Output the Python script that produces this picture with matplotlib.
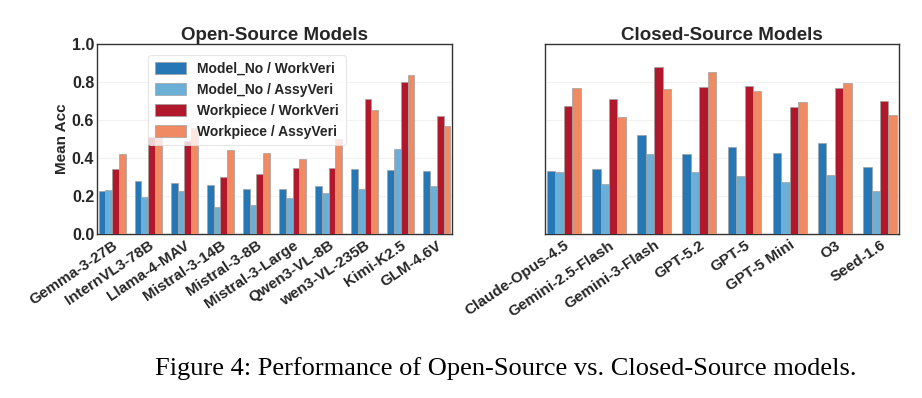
import matplotlib.pyplot as plt
import numpy as np

plt.rcParams['font.family'] = ['Liberation Sans', 'DejaVu Sans']
plt.rcParams['font.weight'] = 'bold'

# data
open_models = ['Gemma-3-27B', 'InternVL3-78B', 'Llama-4-MAV', 'Mistral-3-14B', 'Mistral-3-8B',
               'Mistral-3-Large', 'Qwen3-VL-8B', 'wen3-VL-235B', 'Kimi-K2.5', 'GLM-4.6V']
open_mn_work = [0.225, 0.279, 0.267, 0.258, 0.237, 0.237, 0.254, 0.344, 0.335, 0.330]
open_mn_assy = [0.230, 0.195, 0.226, 0.142, 0.151, 0.189, 0.216, 0.235, 0.446, 0.251]
open_wp_work = [0.344, 0.509, 0.489, 0.300, 0.314, 0.347, 0.346, 0.709, 0.798, 0.621]
open_wp_assy = [0.421, 0.520, 0.558, 0.442, 0.425, 0.396, 0.500, 0.653, 0.837, 0.568]

closed_models = ['Claude-Opus-4.5', 'Gemini-2.5-Flash', 'Gemini-3-Flash', 'GPT-5.2', 'GPT-5',
                 'GPT-5 Mini', 'O3', 'Seed-1.6']
closed_mn_work = [0.330, 0.340, 0.519, 0.419, 0.460, 0.425, 0.477, 0.353]
closed_mn_assy = [0.325, 0.263, 0.419, 0.325, 0.304, 0.274, 0.309, 0.226]
closed_wp_work = [0.674, 0.709, 0.881, 0.775, 0.779, 0.668, 0.768, 0.700]
closed_wp_assy = [0.768, 0.614, 0.763, 0.853, 0.751, 0.693, 0.795, 0.625]

series_names = ['Model_No / WorkVeri', 'Model_No / AssyVeri',
                'Workpiece / WorkVeri', 'Workpiece / AssyVeri']
colors = ['#2577b5', '#6baed6', '#b2182b', '#ef8a62']

fig = plt.figure(figsize=(9.22, 3.98), dpi=100)
ax1 = fig.add_axes([0.1052, 0.412, 0.385, 0.4774])
ax2 = fig.add_axes([0.591, 0.412, 0.384, 0.4774])

w = 0.1875


def draw(ax, names, series, title):
    x = np.arange(len(names))
    for k, vals in enumerate(series):
        ax.bar(x + (k - 1.5) * w, vals, w, color=colors[k], edgecolor='#a0a0a0',
               linewidth=0.5, label=series_names[k], zorder=3)
    ax.set_xlim(-0.42, len(names) - 1 + 0.42)
    ax.set_ylim(0, 1.0)
    ax.set_xticks(x)
    ax.set_xticklabels(names, rotation=34, ha='right', rotation_mode='anchor',
                       fontsize=11, fontweight='bold', color='#262626')
    ax.tick_params(axis='x', length=0, pad=3)
    ax.set_yticks([0, 0.2, 0.4, 0.6, 0.8, 1.0])
    ax.grid(axis='y', color='#f2f2f2', linewidth=0.8, zorder=0)
    for s in ax.spines.values():
        s.set_color('#333333')
        s.set_linewidth(1.0)
    ax.set_title(title, fontsize=13.5, fontweight='bold', color='#262626', pad=3)


draw(ax1, open_models, [open_mn_work, open_mn_assy, open_wp_work, open_wp_assy],
     'Open-Source Models')
draw(ax2, closed_models, [closed_mn_work, closed_mn_assy, closed_wp_work, closed_wp_assy],
     'Closed-Source Models')

ax1.set_yticklabels(['0.0', '0.2', '0.4', '0.6', '0.8', '1.0'], fontsize=11.5,
                    fontweight='bold', color='#262626')
ax1.tick_params(axis='y', length=0, pad=2)
ax1.set_ylabel('Mean Acc', fontsize=11, fontweight='bold', color='#262626', labelpad=2)
ax2.set_yticklabels([])
ax2.tick_params(axis='y', length=0)

leg = ax1.legend(loc='upper left', bbox_to_anchor=(0.125, 0.98), fontsize=10,
                 frameon=True, handlelength=2.2, handleheight=0.9, labelspacing=0.5,
                 borderpad=0.5, handletextpad=0.8)
leg.get_frame().set_edgecolor('#e0e0e0')
leg.get_frame().set_linewidth(0.8)
for t in leg.get_texts():
    t.set_color('#262626')

fig.text(0.549, 0.075, 'Figure 4: Performance of Open-Source vs. Closed-Source models.',
         ha='center', va='center', fontsize=19, family='Liberation Serif',
         fontweight='normal', color='black')

fig.savefig('out.png', dpi=100)
plt.close()
